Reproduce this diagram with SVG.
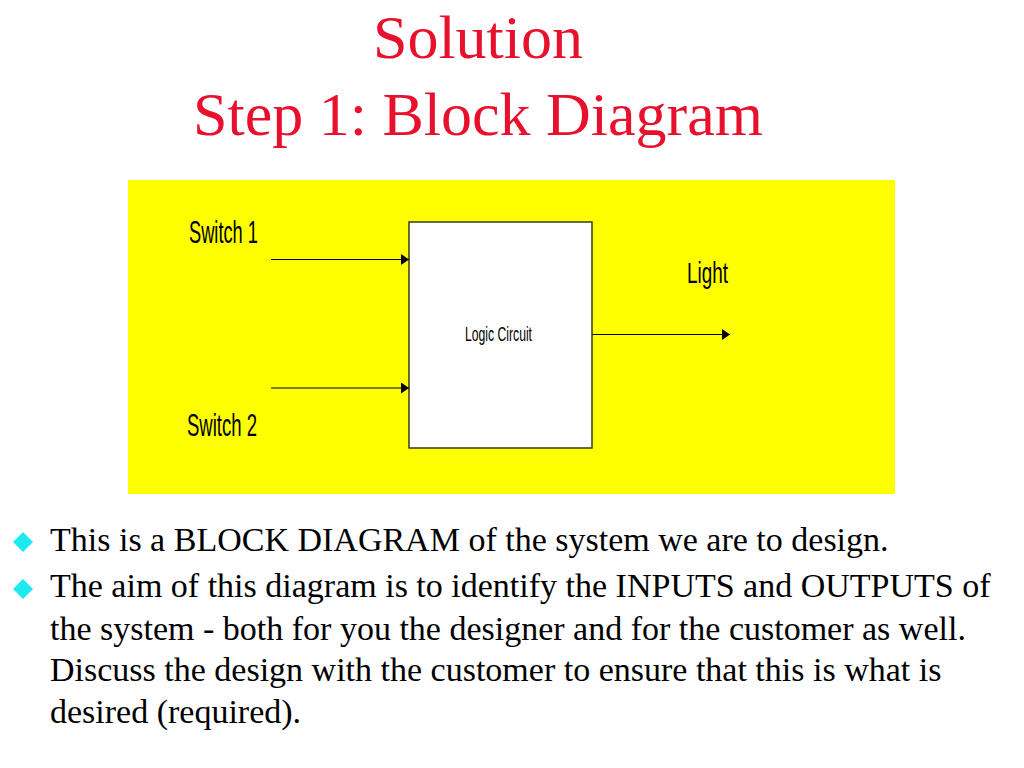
<svg xmlns="http://www.w3.org/2000/svg" width="1024" height="768" viewBox="0 0 1024 768">
<style>
.title{font-family:"Liberation Serif","Times New Roman",serif;font-size:62px;fill:#e8112d;text-anchor:middle}
.body{font-family:"Liberation Serif","Times New Roman",serif;font-size:34px;fill:#000}
.lbl{font-family:"Liberation Sans",Arial,sans-serif;fill:#000}
.conn{stroke:#000;stroke-width:1.2;fill:none}
.bullet{fill:#1ee8f0}
</style>
<defs>
<marker id="ah" markerWidth="8" markerHeight="11" refX="8" refY="5.5" orient="auto" markerUnits="userSpaceOnUse">
<path d="M0,0 L8,5.5 L0,11 Z" fill="#000"/>
</marker>
</defs>
<rect width="1024" height="768" fill="#fff"/>
<g id="title">
<text class="title" x="478" y="58">Solution</text>
<text class="title" x="478" y="135">Step 1: Block Diagram</text>
</g>
<rect id="panel" x="128" y="180" width="767" height="314" fill="#ffff00"/>
<g id="logic-circuit">
<rect x="409" y="222" width="183" height="226" fill="#fff" stroke="#3a3a10" stroke-width="1.5"/>
<text class="lbl" x="465" y="341" font-size="20" textLength="67" lengthAdjust="spacingAndGlyphs">Logic Circuit</text>
</g>
<g id="switch1">
<text class="lbl" x="189" y="243" font-size="32" textLength="69" lengthAdjust="spacingAndGlyphs">Switch 1</text>
</g>
<g id="switch2">
<text class="lbl" x="187" y="436" font-size="32" textLength="70" lengthAdjust="spacingAndGlyphs">Switch 2</text>
</g>
<g id="light">
<text class="lbl" x="687" y="283" font-size="30" textLength="41" lengthAdjust="spacingAndGlyphs">Light</text>
</g>
<g id="connectors">
<line class="conn" x1="271" y1="259.5" x2="409" y2="259.5" marker-end="url(#ah)"/>
<line class="conn" x1="271" y1="388" x2="409" y2="388" marker-end="url(#ah)"/>
<line class="conn" x1="592" y1="334.5" x2="730" y2="334.5" marker-end="url(#ah)"/>
</g>
<g id="bullets">
<path class="bullet" d="M23,532 L33,542 L23,552 L13,542 Z"/>
<path class="bullet" d="M23,579 L33,589 L23,599 L13,589 Z"/>
<text class="body" x="50" y="551">This is a BLOCK DIAGRAM of the system we are to design.</text>
<text class="body" x="50" y="597">The aim of this diagram is to identify the INPUTS and OUTPUTS of</text>
<text class="body" x="50" y="639.5">the system - both for you the designer and for the customer as well.</text>
<text class="body" x="50" y="681">Discuss the design with the customer to ensure that this is what is</text>
<text class="body" x="50" y="723">desired (required).</text>
</g>
</svg>
